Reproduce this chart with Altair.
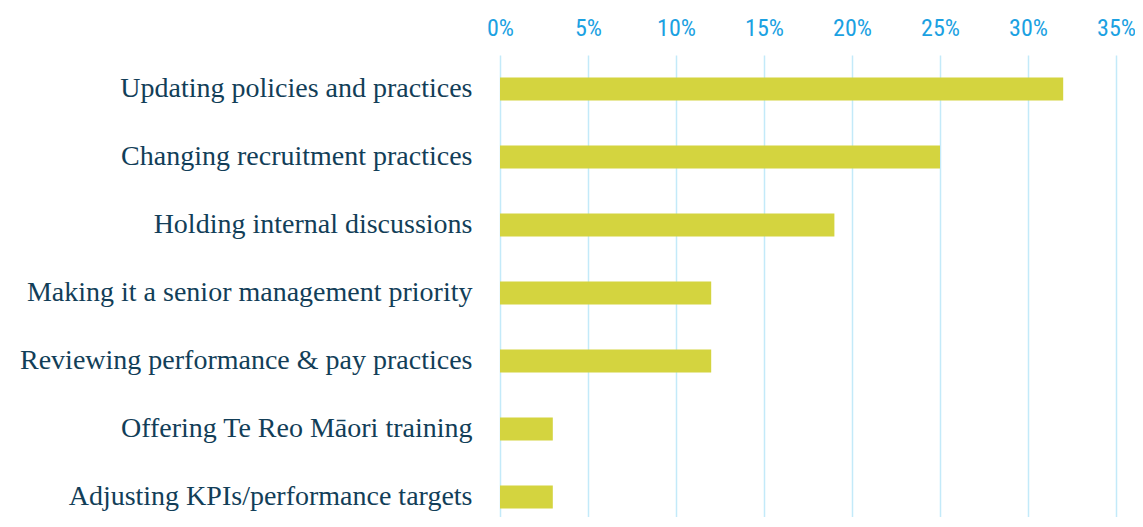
import altair as alt
import pandas as pd

categories = [
    "Updating policies and practices",
    "Changing recruitment practices",
    "Holding internal discussions",
    "Making it a senior management priority",
    "Reviewing performance & pay practices",
    "Offering Te Reo Māori training",
    "Adjusting KPIs/performance targets",
]
values = [0.32, 0.25, 0.19, 0.12, 0.12, 0.03, 0.03]
x_ticks = [0, 0.05, 0.10, 0.15, 0.20, 0.25, 0.30, 0.35]

df = pd.DataFrame({"category": categories, "value": values})

chart = (
    alt.Chart(df)
    .mark_bar(color="#D4D43F")
    .encode(
        x=alt.X(
            "value:Q",
            scale=alt.Scale(domain=[0, 0.35], nice=False),
            axis=alt.Axis(
                orient="top",
                values=x_ticks,
                format=".0%",
                title=None,
                domain=False,
                ticks=False,
                tickSize=0,
                labelPadding=20,
                labelBaseline="alphabetic",
                labelFont="'Liberation Sans Narrow', 'Roboto Condensed', Roboto",
                labelFontSize=24,
                labelColor="#1BA1E2",
                labelFlush=False,
                grid=True,
                gridColor="#C3EAF9",
                gridWidth=1.5,
            ),
        ),
        y=alt.Y(
            "category:N",
            sort=categories,
            scale=alt.Scale(paddingInner=0.662, paddingOuter=0.227, align=0.726),
            axis=alt.Axis(
                title=None,
                domain=False,
                ticks=False,
                tickSize=0,
                labelPadding=28,
                labelFont="'Liberation Serif', 'DejaVu Serif', serif",
                labelFontSize=28,
                labelColor="#123E58",
                labelLimit=600,
                grid=False,
            ),
        ),
    )
    .properties(
        width=616,
        height=462,
        autosize=alt.AutoSizeParams(type="none"),
        padding={"left": 492, "top": 47, "right": 19, "bottom": 0},
    )
    .configure_view(stroke=None)
)

chart.save("out.html", embed_options={"renderer": "svg", "actions": False})
